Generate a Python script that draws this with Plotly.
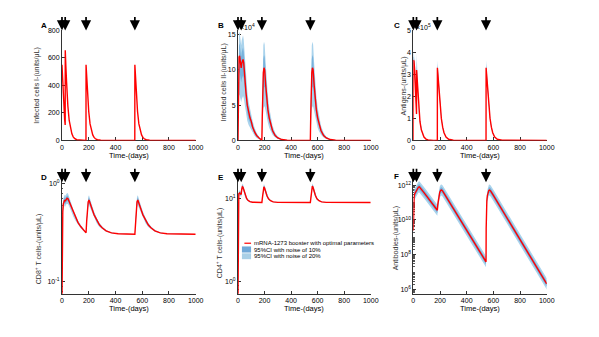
import plotly.graph_objects as go

W, H = 599, 337
def px(x): return x / W
def py(y): return 1 - y / H

dose_days = [0, 24, 180, 545]
x_ticks = [0, 200, 400, 600, 800, 1000]

# ---------------- Panel A : Infected cells I ----------------
tA = [0, 5, 10, 15, 20, 24,
      24.5, 29, 34, 39, 44, 54, 64, 74, 84, 94, 110, 140,
      179.5, 180, 185, 190, 200, 210, 220, 230, 240, 250, 265, 290, 330,
      544.5, 545, 550, 555, 565, 575, 585, 595, 605, 615, 630, 655, 695, 1000]
A_red = [550, 420, 310, 220, 150, 112,
         655, 540, 430, 330, 250, 145, 85, 48, 26, 14, 5, 0.5,
         0, 550, 450, 360, 210, 120, 70, 40, 22, 12, 5, 1, 0.1,
         0, 550, 450, 360, 210, 120, 70, 40, 22, 12, 5, 1, 0.1, 0]

# ---------------- Panel B : Infected cells II (x10^4) ----------------
tB = ([0, 2, 5, 8, 12, 16, 20, 24, 28, 33, 38, 43, 50, 60, 70, 80, 90, 100, 110, 125, 140, 160, 175]
      + [180, 183, 187, 191, 196, 201, 208, 216, 225, 235, 245, 260, 280, 300, 330, 370, 450]
      + [545, 548, 552, 556, 561, 566, 573, 581, 590, 600, 610, 625, 645, 665, 695, 735, 850, 1000])
B_red = ([0, 6.0, 10.5, 11.8, 12.0, 11.6, 10.8, 10.3, 10.9, 11.4, 11.5, 11.0, 9.0, 6.8, 5.0, 3.9, 3.2, 2.7, 1.9, 1.2, 0.7, 0.3, 0.1]
         + [0.05, 3.5, 7.5, 9.6, 10.3, 10.0, 8.0, 6.0, 4.4, 3.2, 2.3, 1.4, 0.7, 0.35, 0.12, 0.03, 0.01]
         + [0, 3.5, 7.5, 9.6, 10.3, 10.0, 8.0, 6.0, 4.4, 3.2, 2.3, 1.4, 0.7, 0.35, 0.12, 0.03, 0.01, 0])
B_up20 = ([0, 9.0, 14.0, 15.2, 15.4, 14.8, 14.0, 13.5, 14.2, 14.8, 14.9, 14.3, 12.0, 9.2, 7.0, 5.5, 4.5, 3.8, 2.8, 1.8, 1.1, 0.5, 0.2]
          + [0.1, 6.0, 11.5, 13.5, 14.0, 13.6, 11.2, 8.5, 6.4, 4.7, 3.4, 2.1, 1.1, 0.55, 0.2, 0.05, 0.02]
          + [0, 6.0, 11.5, 13.5, 14.0, 13.6, 11.2, 8.5, 6.4, 4.7, 3.4, 2.1, 1.1, 0.55, 0.2, 0.05, 0.02, 0])
B_lo20 = ([0, 3.0, 6.0, 6.5, 6.4, 6.0, 5.6, 5.4, 5.8, 6.2, 6.3, 6.0, 5.0, 3.8, 2.8, 2.2, 1.8, 1.5, 1.0, 0.65, 0.35, 0.15, 0.05]
          + [0, 1.5, 3.5, 4.5, 4.8, 4.8, 4.2, 3.3, 2.5, 1.8, 1.3, 0.8, 0.4, 0.2, 0.07, 0.015, 0.005]
          + [0, 1.5, 3.5, 4.5, 4.8, 4.8, 4.2, 3.3, 2.5, 1.8, 1.3, 0.8, 0.4, 0.2, 0.07, 0.015, 0.005, 0])
B_up10 = ([0, 7.5, 12.2, 13.5, 13.7, 13.2, 12.4, 11.9, 12.5, 13.1, 13.2, 12.6, 10.5, 8.0, 6.0, 4.7, 3.8, 3.2, 2.3, 1.5, 0.9, 0.4, 0.15]
          + [0.07, 4.7, 9.5, 11.5, 12.1, 11.8, 9.6, 7.2, 5.4, 3.9, 2.8, 1.7, 0.9, 0.45, 0.16, 0.04, 0.015]
          + [0, 4.7, 9.5, 11.5, 12.1, 11.8, 9.6, 7.2, 5.4, 3.9, 2.8, 1.7, 0.9, 0.45, 0.16, 0.04, 0.015, 0])
B_lo10 = ([0, 4.5, 8.5, 9.6, 9.7, 9.3, 8.6, 8.2, 8.7, 9.1, 9.2, 8.8, 7.2, 5.4, 3.9, 3.0, 2.5, 2.1, 1.5, 0.95, 0.55, 0.22, 0.07]
          + [0.03, 2.5, 5.6, 7.2, 7.6, 7.5, 6.2, 4.7, 3.5, 2.5, 1.8, 1.1, 0.55, 0.27, 0.09, 0.02, 0.007]
          + [0, 2.5, 5.6, 7.2, 7.6, 7.5, 6.2, 4.7, 3.5, 2.5, 1.8, 1.1, 0.55, 0.27, 0.09, 0.02, 0.007, 0])

# ---------------- Panel C : Antigens (x10^5) ----------------
tC = ([0, 1, 5, 10, 15, 20, 24, 24.5, 30, 35, 40, 50, 60, 70, 80, 95, 110, 150]
      + [180, 180.5, 186, 192, 200, 210, 220, 230, 245, 265, 300]
      + [545, 545.5, 551, 557, 565, 575, 585, 595, 610, 630, 665, 1000])
C_red = ([0, 3.65, 3.6, 3.2, 2.5, 1.8, 1.2, 3.2, 2.6, 2.0, 1.5, 0.85, 0.48, 0.27, 0.15, 0.06, 0.02, 0]
         + [0, 3.3, 2.9, 2.3, 1.6, 1.0, 0.6, 0.35, 0.15, 0.05, 0.01]
         + [0, 3.3, 2.9, 2.3, 1.6, 1.0, 0.6, 0.35, 0.15, 0.05, 0.01, 0])
C_up20 = ([0, 4.0, 3.95, 3.5, 2.75, 2.0, 1.35, 4.0, 3.0, 2.3, 1.7, 0.95, 0.54, 0.3, 0.17, 0.07, 0.025, 0]
          + [0, 3.65, 3.2, 2.55, 1.8, 1.1, 0.67, 0.39, 0.17, 0.06, 0.012]
          + [0, 3.65, 3.2, 2.55, 1.8, 1.1, 0.67, 0.39, 0.17, 0.06, 0.012, 0])
C_lo20 = ([0, 3.3, 3.25, 2.9, 2.25, 1.6, 1.05, 2.9, 2.3, 1.75, 1.3, 0.75, 0.42, 0.24, 0.13, 0.05, 0.017, 0]
          + [0, 3.0, 2.6, 2.05, 1.4, 0.9, 0.53, 0.31, 0.13, 0.04, 0.008]
          + [0, 3.0, 2.6, 2.05, 1.4, 0.9, 0.53, 0.31, 0.13, 0.04, 0.008, 0])
C_up10 = ([0, 3.82, 3.78, 3.35, 2.62, 1.9, 1.27, 3.6, 2.8, 2.15, 1.6, 0.9, 0.51, 0.28, 0.16, 0.065, 0.022, 0]
          + [0, 3.48, 3.05, 2.42, 1.7, 1.05, 0.63, 0.37, 0.16, 0.055, 0.011]
          + [0, 3.48, 3.05, 2.42, 1.7, 1.05, 0.63, 0.37, 0.16, 0.055, 0.011, 0])
C_lo10 = ([0, 3.48, 3.42, 3.05, 2.38, 1.7, 1.13, 3.05, 2.45, 1.88, 1.4, 0.8, 0.45, 0.25, 0.14, 0.055, 0.018, 0]
          + [0, 3.15, 2.75, 2.18, 1.5, 0.95, 0.56, 0.33, 0.14, 0.045, 0.009]
          + [0, 3.15, 2.75, 2.18, 1.5, 0.95, 0.56, 0.33, 0.14, 0.045, 0.009, 0])

# ---------------- Panel D : CD8+ T cells ----------------
tD = ([0, 1, 3, 6, 10, 15, 20, 24, 30, 38, 45, 55, 70, 85, 100, 120, 140, 160, 180]
      + [185, 190, 196, 202, 210, 225, 240, 260, 280, 300, 330, 370, 420, 545]
      + [550, 555, 561, 567, 575, 590, 605, 625, 645, 665, 695, 735, 785, 1000])
D_red = ([0.06, 0.15, 0.35, 0.52, 0.62, 0.67, 0.68, 0.66, 0.69, 0.71, 0.70, 0.65, 0.57, 0.50, 0.45, 0.40, 0.365, 0.335, 0.315]
         + [0.42, 0.55, 0.65, 0.68, 0.64, 0.55, 0.48, 0.42, 0.38, 0.355, 0.33, 0.315, 0.308, 0.305]
         + [0.42, 0.55, 0.65, 0.68, 0.64, 0.55, 0.48, 0.42, 0.38, 0.355, 0.33, 0.315, 0.308, 0.305])
D_up20 = ([0.065, 0.18, 0.40, 0.60, 0.71, 0.76, 0.77, 0.75, 0.78, 0.80, 0.79, 0.73, 0.63, 0.54, 0.48, 0.42, 0.38, 0.342, 0.318]
          + [0.45, 0.61, 0.73, 0.76, 0.71, 0.60, 0.52, 0.445, 0.40, 0.367, 0.337, 0.318, 0.31, 0.306]
          + [0.45, 0.61, 0.73, 0.76, 0.71, 0.60, 0.52, 0.445, 0.40, 0.367, 0.337, 0.318, 0.31, 0.306])
D_lo20 = ([0.055, 0.125, 0.30, 0.46, 0.55, 0.59, 0.60, 0.58, 0.61, 0.62, 0.62, 0.58, 0.51, 0.46, 0.42, 0.38, 0.35, 0.328, 0.312]
          + [0.39, 0.49, 0.57, 0.60, 0.565, 0.495, 0.44, 0.395, 0.362, 0.343, 0.323, 0.312, 0.306, 0.304]
          + [0.39, 0.49, 0.57, 0.60, 0.565, 0.495, 0.44, 0.395, 0.362, 0.343, 0.323, 0.312, 0.306, 0.304])
D_up10 = ([0.062, 0.165, 0.375, 0.56, 0.665, 0.715, 0.725, 0.705, 0.735, 0.755, 0.745, 0.69, 0.60, 0.52, 0.465, 0.41, 0.372, 0.338, 0.316]
          + [0.433, 0.58, 0.69, 0.72, 0.675, 0.575, 0.50, 0.433, 0.39, 0.361, 0.333, 0.317, 0.309, 0.305]
          + [0.433, 0.58, 0.69, 0.72, 0.675, 0.575, 0.50, 0.433, 0.39, 0.361, 0.333, 0.317, 0.309, 0.305])
D_lo10 = ([0.058, 0.137, 0.325, 0.49, 0.585, 0.63, 0.64, 0.62, 0.65, 0.665, 0.66, 0.615, 0.54, 0.48, 0.435, 0.39, 0.358, 0.332, 0.314]
          + [0.405, 0.52, 0.61, 0.64, 0.60, 0.52, 0.46, 0.407, 0.37, 0.349, 0.326, 0.313, 0.307, 0.305]
          + [0.405, 0.52, 0.61, 0.64, 0.60, 0.52, 0.46, 0.407, 0.37, 0.349, 0.326, 0.313, 0.307, 0.305])

# ---------------- Panel E : CD4+ T cells ----------------
tE = ([0, 0.5, 2, 6, 12, 18, 24, 28, 33, 38, 45, 55, 65, 75, 90, 110, 140, 180]
      + [183, 187, 191, 195, 200, 208, 218, 230, 245, 265, 300, 545]
      + [548, 552, 556, 560, 565, 573, 583, 595, 610, 630, 665, 1000])
E_red = ([0.6, 5.0, 10.5, 11.5, 11.8, 11.6, 11.3, 13.0, 14.0, 13.8, 12.5, 11.0, 10.1, 9.6, 9.25, 9.1, 9.06, 9.05]
         + [10.0, 12.0, 13.5, 14.0, 13.5, 12.2, 10.9, 10.0, 9.5, 9.2, 9.07, 9.05]
         + [10.0, 12.2, 13.7, 14.3, 13.8, 12.4, 11.0, 10.0, 9.5, 9.2, 9.07, 9.05])
E_up20 = ([0.65, 5.5, 11.3, 12.4, 12.7, 12.5, 12.2, 14.0, 15.2, 15.0, 13.5, 11.8, 10.6, 9.9, 9.4, 9.15, 9.07, 9.05]
          + [10.5, 12.9, 14.6, 15.1, 14.6, 13.1, 11.5, 10.4, 9.7, 9.3, 9.08, 9.05]
          + [10.5, 13.1, 14.8, 15.4, 14.9, 13.3, 11.6, 10.4, 9.7, 9.3, 9.08, 9.05])
E_lo20 = ([0.55, 4.5, 9.8, 10.7, 11.0, 10.8, 10.5, 12.1, 13.0, 12.8, 11.6, 10.3, 9.7, 9.35, 9.12, 9.06, 9.05, 9.05]
          + [9.6, 11.2, 12.5, 13.0, 12.5, 11.4, 10.4, 9.7, 9.35, 9.12, 9.06, 9.05]
          + [9.6, 11.4, 12.7, 13.3, 12.8, 11.6, 10.5, 9.7, 9.35, 9.12, 9.06, 9.05])
E_up10 = ([0.62, 5.25, 10.9, 11.95, 12.25, 12.05, 11.75, 13.5, 14.6, 14.4, 13.0, 11.4, 10.35, 9.75, 9.32, 9.12, 9.065, 9.05]
          + [10.25, 12.45, 14.05, 14.55, 14.05, 12.65, 11.2, 10.2, 9.6, 9.25, 9.075, 9.05]
          + [10.25, 12.65, 14.25, 14.85, 14.35, 12.85, 11.3, 10.2, 9.6, 9.25, 9.075, 9.05])
E_lo10 = ([0.58, 4.75, 10.15, 11.1, 11.4, 11.2, 10.9, 12.55, 13.5, 13.3, 12.05, 10.65, 9.9, 9.48, 9.18, 9.08, 9.055, 9.05]
          + [9.8, 11.6, 13.0, 13.5, 13.0, 11.8, 10.65, 9.85, 9.42, 9.15, 9.065, 9.05]
          + [9.8, 11.8, 13.2, 13.8, 13.3, 12.0, 10.75, 9.85, 9.42, 9.15, 9.065, 9.05])

# ---------------- Panel F : Antibodies (log10 of units/uL) ----------------
tF = ([0, 1, 3, 6, 10, 16, 24, 30, 38, 45, 60, 80, 100, 120, 140, 160, 180]
      + [183, 187, 192, 198, 205, 212, 220, 250, 300, 350, 400, 450, 500, 545]
      + [546, 548, 551, 555, 560, 566, 572, 580, 600, 650, 700, 750, 800, 850, 900, 950, 1000])
F_red_log = ([9.4, 10.3, 10.9, 11.3, 11.5, 11.6, 11.65, 11.8, 11.88, 11.9, 11.78, 11.57, 11.37, 11.16, 10.96, 10.76, 10.56]
             + [10.85, 11.15, 11.42, 11.6, 11.7, 11.72, 11.66, 11.29, 10.67, 10.05, 9.43, 8.81, 8.19, 7.6]
             + [9.5, 10.6, 11.1, 11.4, 11.58, 11.7, 11.72, 11.66, 11.41, 10.77, 10.14, 9.5, 8.87, 8.23, 7.6, 6.96, 6.33])
F_up20_log = ([9.8, 10.7, 11.25, 11.62, 11.82, 11.92, 11.97, 12.12, 12.2, 12.22, 12.1, 11.89, 11.69, 11.48, 11.28, 11.08, 10.88]
              + [11.17, 11.47, 11.74, 11.92, 12.02, 12.04, 11.98, 11.61, 10.99, 10.37, 9.75, 9.13, 8.51, 7.92]
              + [9.82, 10.92, 11.42, 11.72, 11.9, 12.02, 12.04, 11.98, 11.73, 11.09, 10.46, 9.82, 9.19, 8.55, 7.92, 7.28, 6.65])
F_lo20_log = ([9.0, 9.9, 10.55, 10.98, 11.18, 11.28, 11.33, 11.48, 11.56, 11.58, 11.46, 11.25, 11.05, 10.84, 10.64, 10.44, 10.24]
              + [10.53, 10.83, 11.1, 11.28, 11.38, 11.4, 11.34, 10.97, 10.35, 9.73, 9.11, 8.49, 7.87, 7.28]
              + [9.18, 10.28, 10.78, 11.08, 11.26, 11.38, 11.4, 11.34, 11.09, 10.45, 9.82, 9.18, 8.55, 7.91, 7.28, 6.64, 6.01])
F_up10_log = ([9.6, 10.5, 11.08, 11.46, 11.66, 11.76, 11.81, 11.96, 12.04, 12.06, 11.94, 11.73, 11.53, 11.32, 11.12, 10.92, 10.72]
              + [11.01, 11.31, 11.58, 11.76, 11.86, 11.88, 11.82, 11.45, 10.83, 10.21, 9.59, 8.97, 8.35, 7.76]
              + [9.66, 10.76, 11.26, 11.56, 11.74, 11.86, 11.88, 11.82, 11.57, 10.93, 10.3, 9.66, 9.03, 8.39, 7.76, 7.12, 6.49])
F_lo10_log = ([9.2, 10.1, 10.72, 11.14, 11.34, 11.44, 11.49, 11.64, 11.72, 11.74, 11.62, 11.41, 11.21, 11.0, 10.8, 10.6, 10.4]
              + [10.69, 10.99, 11.26, 11.44, 11.54, 11.56, 11.5, 11.13, 10.51, 9.89, 9.27, 8.65, 8.03, 7.44]
              + [9.34, 10.44, 10.94, 11.24, 11.42, 11.54, 11.56, 11.5, 11.25, 10.61, 9.98, 9.34, 8.71, 8.07, 7.44, 6.8, 6.17])

def pow10(v): return [10 ** a for a in v]

RED = "#ff0000"
OUTER = "#aad3ec"
INNER = "#78b2dc"
LEG_IN = "#6fa8d8"
LEG_OUT = "#a8cfe6"
FONT = "Liberation Sans, Arial, sans-serif"

fig = go.Figure()

def add_band(n, t, lo, up, color):
    xa, ya = ("x", "y") if n == 1 else (f"x{n}", f"y{n}")
    fig.add_trace(go.Scatter(x=t, y=lo, xaxis=xa, yaxis=ya, mode="lines",
                             line=dict(width=0, color=color), showlegend=False, hoverinfo="skip"))
    fig.add_trace(go.Scatter(x=t, y=up, xaxis=xa, yaxis=ya, mode="lines", fill="tonexty",
                             fillcolor=color, line=dict(width=0, color=color), showlegend=False,
                             hoverinfo="skip"))

def add_red(n, t, v):
    xa, ya = ("x", "y") if n == 1 else (f"x{n}", f"y{n}")
    fig.add_trace(go.Scatter(x=t, y=v, xaxis=xa, yaxis=ya, mode="lines",
                             line=dict(width=1.4, color=RED), showlegend=False))

add_red(1, tA, A_red)

add_band(2, tB, B_lo20, B_up20, OUTER)
add_band(2, tB, B_lo10, B_up10, INNER)
add_red(2, tB, B_red)

add_band(3, tC, C_lo20, C_up20, OUTER)
add_band(3, tC, C_lo10, C_up10, INNER)
add_red(3, tC, C_red)

add_band(4, tD, D_lo20, D_up20, OUTER)
add_band(4, tD, D_lo10, D_up10, INNER)
add_red(4, tD, D_red)

add_band(5, tE, E_lo20, E_up20, OUTER)
add_band(5, tE, E_lo10, E_up10, INNER)
add_red(5, tE, E_red)

add_band(6, tF, pow10(F_lo20_log), pow10(F_up20_log), OUTER)
add_band(6, tF, pow10(F_lo10_log), pow10(F_up10_log), INNER)
add_red(6, tF, pow10(F_red_log))

# ---------------- axes layout ----------------
xdom = {1: (61, 197), 2: (240, 375), 3: (418.3, 554), 4: (61, 197), 5: (240, 375), 6: (418.3, 554)}
top_row = (27, 139.3)
bot_row = (176.7, 296)

base = dict(showline=True, linecolor="#333333", linewidth=1, ticks="inside", ticklen=3,
            tickcolor="#333333", showgrid=False, zeroline=False,
            tickfont=dict(family=FONT, size=7, color="black"), layer="below traces")
minor_log = dict(ticks="inside", ticklen=1.5, tickcolor="#555555", dtick="D1", showgrid=False)

yspecs = {
    1: dict(range=[0, 800], tickvals=[0, 200, 400, 600, 800]),
    2: dict(range=[0, 15.6], tickvals=[0, 5, 10, 15]),
    3: dict(range=[0, 5], tickvals=[0, 1, 2, 3, 4, 5]),
    4: dict(type="log", range=[-1.1225, 0.066], tickvals=[0.1, 1],
            ticktext=["10<sup>-1</sup>", "10<sup>0</sup>"], minor=minor_log),
    5: dict(type="log", range=[-0.151, 1.2645], tickvals=[1, 10],
            ticktext=["10<sup>0</sup>", "10<sup>1</sup>"], minor=minor_log),
    6: dict(type="log", range=[5.758, 12.467], tickvals=[1e6, 1e8, 1e10, 1e12],
            ticktext=["10<sup>6</sup>", "10<sup>8</sup>", "10<sup>10</sup>", "10<sup>12</sup>"],
            minor=minor_log),
}

layout = dict(width=W, height=H, margin=dict(l=0, r=0, t=0, b=0),
              paper_bgcolor="white", plot_bgcolor="white", showlegend=False,
              font=dict(family=FONT, color="black"))
for n in range(1, 7):
    row = top_row if n <= 3 else bot_row
    xk = "xaxis" if n == 1 else f"xaxis{n}"
    yk = "yaxis" if n == 1 else f"yaxis{n}"
    ya = "y" if n == 1 else f"y{n}"
    xa = "x" if n == 1 else f"x{n}"
    layout[xk] = dict(base, domain=[px(xdom[n][0]), px(xdom[n][1])], range=[0, 1000],
                      tickvals=x_ticks, anchor=ya)
    ys = dict(base, domain=[py(row[1]), py(row[0])], anchor=xa)
    ys.update(yspecs[n])
    layout[yk] = ys
fig.update_layout(**layout)

ann = []
shapes = []

def text_at(s, x, y, size, color="black", xanchor="center", angle=0):
    ann.append(dict(x=px(x), y=py(y), xref="paper", yref="paper", text=s,
                    xanchor=xanchor, yanchor="middle", textangle=angle, showarrow=False,
                    font=dict(family=FONT, size=size, color=color)))

# arrows for doses
for n in range(1, 7):
    xa = "x" if n == 1 else f"x{n}"
    tip = 27 if n <= 3 else 182
    for d in dose_days:
        ann.append(dict(x=d, xref=xa, y=py(tip), yref="paper", ax=0, ay=-15, text="",
                        showarrow=True, arrowhead=2, arrowsize=1.2, arrowwidth=1.7,
                        arrowcolor="black"))

# panel letters
letters = [("A", 43, 22), ("B", 223, 22), ("C", 401.5, 22), ("D", 43, 177), ("E", 223, 177), ("F", 401, 176)]
for s, x, y in letters:
    text_at(f"<b>{s}</b>", x, y, 8)

# multipliers
text_at("×10<sup>4</sup>", 240.5, 23, 7, xanchor="left")
text_at("×10<sup>5</sup>", 419, 23, 7, xanchor="left")

# axis titles
ytitles = [
    ("Infected cells I-(units/μL)", 36, 83),
    ("Infected cells II-(units/μL)", 226, 80),
    ("Antigens-(units/μL)", 409, 84),
    ("CD8<sup>+</sup> T cells-(units/μL)", 37, 250),
    ("CD4<sup>+</sup> T cells-(units/μL)", 222, 244),
    ("Antibodies-(units/μL)", 401, 239),
]
for s, x, y in ytitles:
    text_at(s, x, y, 7, color="#333333", angle=-90)
for n in range(1, 7):
    cx = (xdom[n][0] + xdom[n][1]) / 2
    cy = 155 if n <= 3 else 311
    text_at("Time-(days)", cx, cy, 7.5)

# legend (panel E)
shapes.append(dict(type="line", xref="paper", yref="paper", x0=px(246.5), x1=px(253.3),
                   y0=py(244.3), y1=py(244.3), line=dict(color=RED, width=1.2)))
shapes.append(dict(type="rect", xref="paper", yref="paper", x0=px(244), x1=px(253.3),
                   y0=py(253.8), y1=py(247.6), fillcolor=LEG_IN, line=dict(width=0)))
shapes.append(dict(type="rect", xref="paper", yref="paper", x0=px(244), x1=px(253.3),
                   y0=py(260.6), y1=py(254.6), fillcolor=LEG_OUT, line=dict(width=0)))
leg = [("mRNA-1273 booster with optimal parameters", 244.3),
       ("95%CI with noise of 10%", 251),
       ("95%CI with noise of 20%", 257.7)]
for s, y in leg:
    text_at(s, 254, y, 6, xanchor="left")

fig.update_layout(annotations=ann, shapes=shapes)
fig.write_html("out.html")
